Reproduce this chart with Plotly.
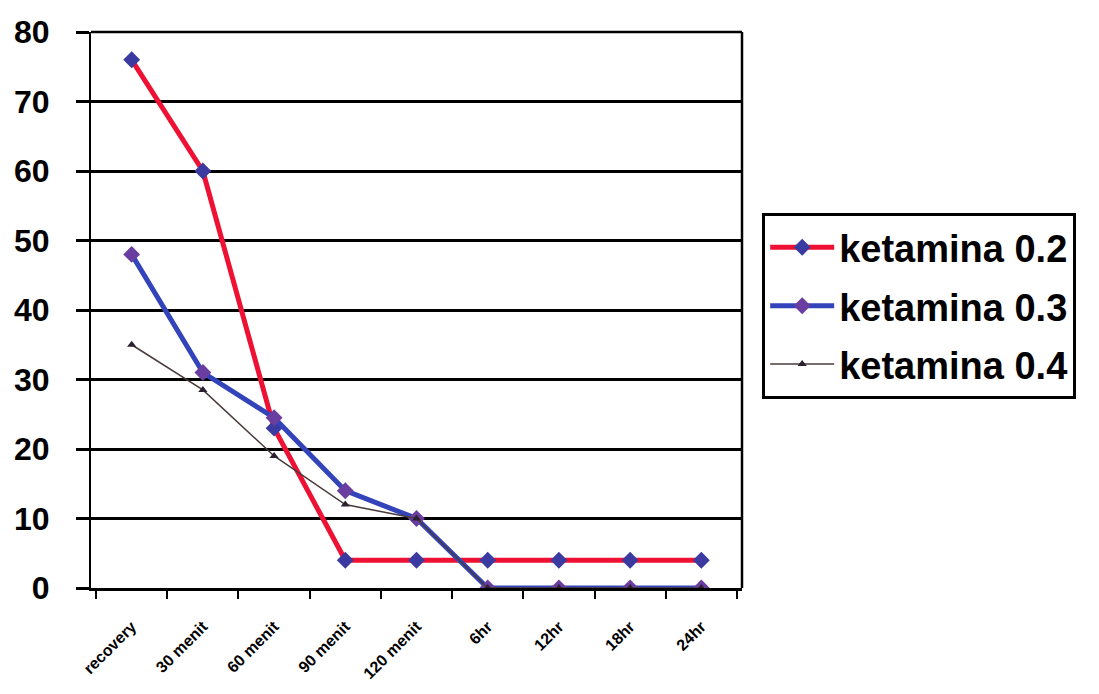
import plotly.graph_objects as go

categories = ["recovery", "30 menit", "60 menit", "90 menit", "120 menit", "6hr", "12hr", "18hr", "24hr"]
k02 = [76, 60, 23, 4, 4, 4, 4, 4, 4]
k03 = [48, 31, 24.5, 14, 10, 0, 0, 0, 0]
k04 = [35, 28.5, 19, 12, 10, 0, 0, 0, 0]
names = ["ketamina 0.2", "ketamina 0.3", "ketamina 0.4"]

fig = go.Figure()
fig.add_trace(go.Scatter(x=categories, y=k02, name=names[0], mode="lines+markers", legendgroup="a",
                         line=dict(color="#ee1133", width=5),
                         marker=dict(symbol="diamond", size=13, color="#3a3aa0")))
fig.add_trace(go.Scatter(x=categories, y=k03, name=names[1], mode="lines+markers", legendgroup="b",
                         line=dict(color="#3344bb", width=5),
                         marker=dict(symbol="diamond", size=13, color="#6a3ea0")))
fig.add_trace(go.Scatter(x=categories, y=k04, name=names[2], mode="lines+markers", legendgroup="c",
                         line=dict(color="#4a3a3a", width=1.5),
                         marker=dict(symbol="triangle-up", size=8, color="#2a2030")))

fig.update_layout(
    width=1099, height=694,
    paper_bgcolor="white", plot_bgcolor="white",
    margin=dict(l=83, r=365, t=24, b=114),
    font=dict(family="Arial, Liberation Sans, sans-serif", color="black"),
    legend=dict(x=1.031, y=0.507, xanchor="left", yanchor="middle",
                bordercolor="black", borderwidth=3, bgcolor="white",
                font=dict(size=38, family="Arial, Liberation Sans, sans-serif", weight="bold"),
                itemwidth=64, tracegroupgap=6),
    xaxis=dict(type="category", showgrid=False, showline=True, linecolor="black", linewidth=3,
               ticks="outside", tickson="boundaries", ticklen=8, tickwidth=2,
               tickcolor="black", tickangle=-45, automargin=False, ticklabelstandoff=20,
               tickfont=dict(size=16, weight="bold", color="black")),
    yaxis=dict(range=[0, 80], dtick=10, showgrid=True, gridcolor="black", gridwidth=2.5,
               showline=True, linecolor="black", linewidth=2, ticks="outside", ticklen=13,
               tickwidth=2.5, tickcolor="black", zeroline=False, automargin=False,
               ticklabelstandoff=20,
               tickfont=dict(size=32, weight="bold", color="black")),
    showlegend=True,
)
fig.add_shape(type="line", xref="paper", yref="paper", x0=0, x1=1, y0=1, y1=1,
              line=dict(color="black", width=2.5))
fig.add_shape(type="line", xref="paper", yref="paper", x0=1, x1=1, y0=0, y1=1,
              line=dict(color="black", width=2.5))

fig.write_html("out.html")
